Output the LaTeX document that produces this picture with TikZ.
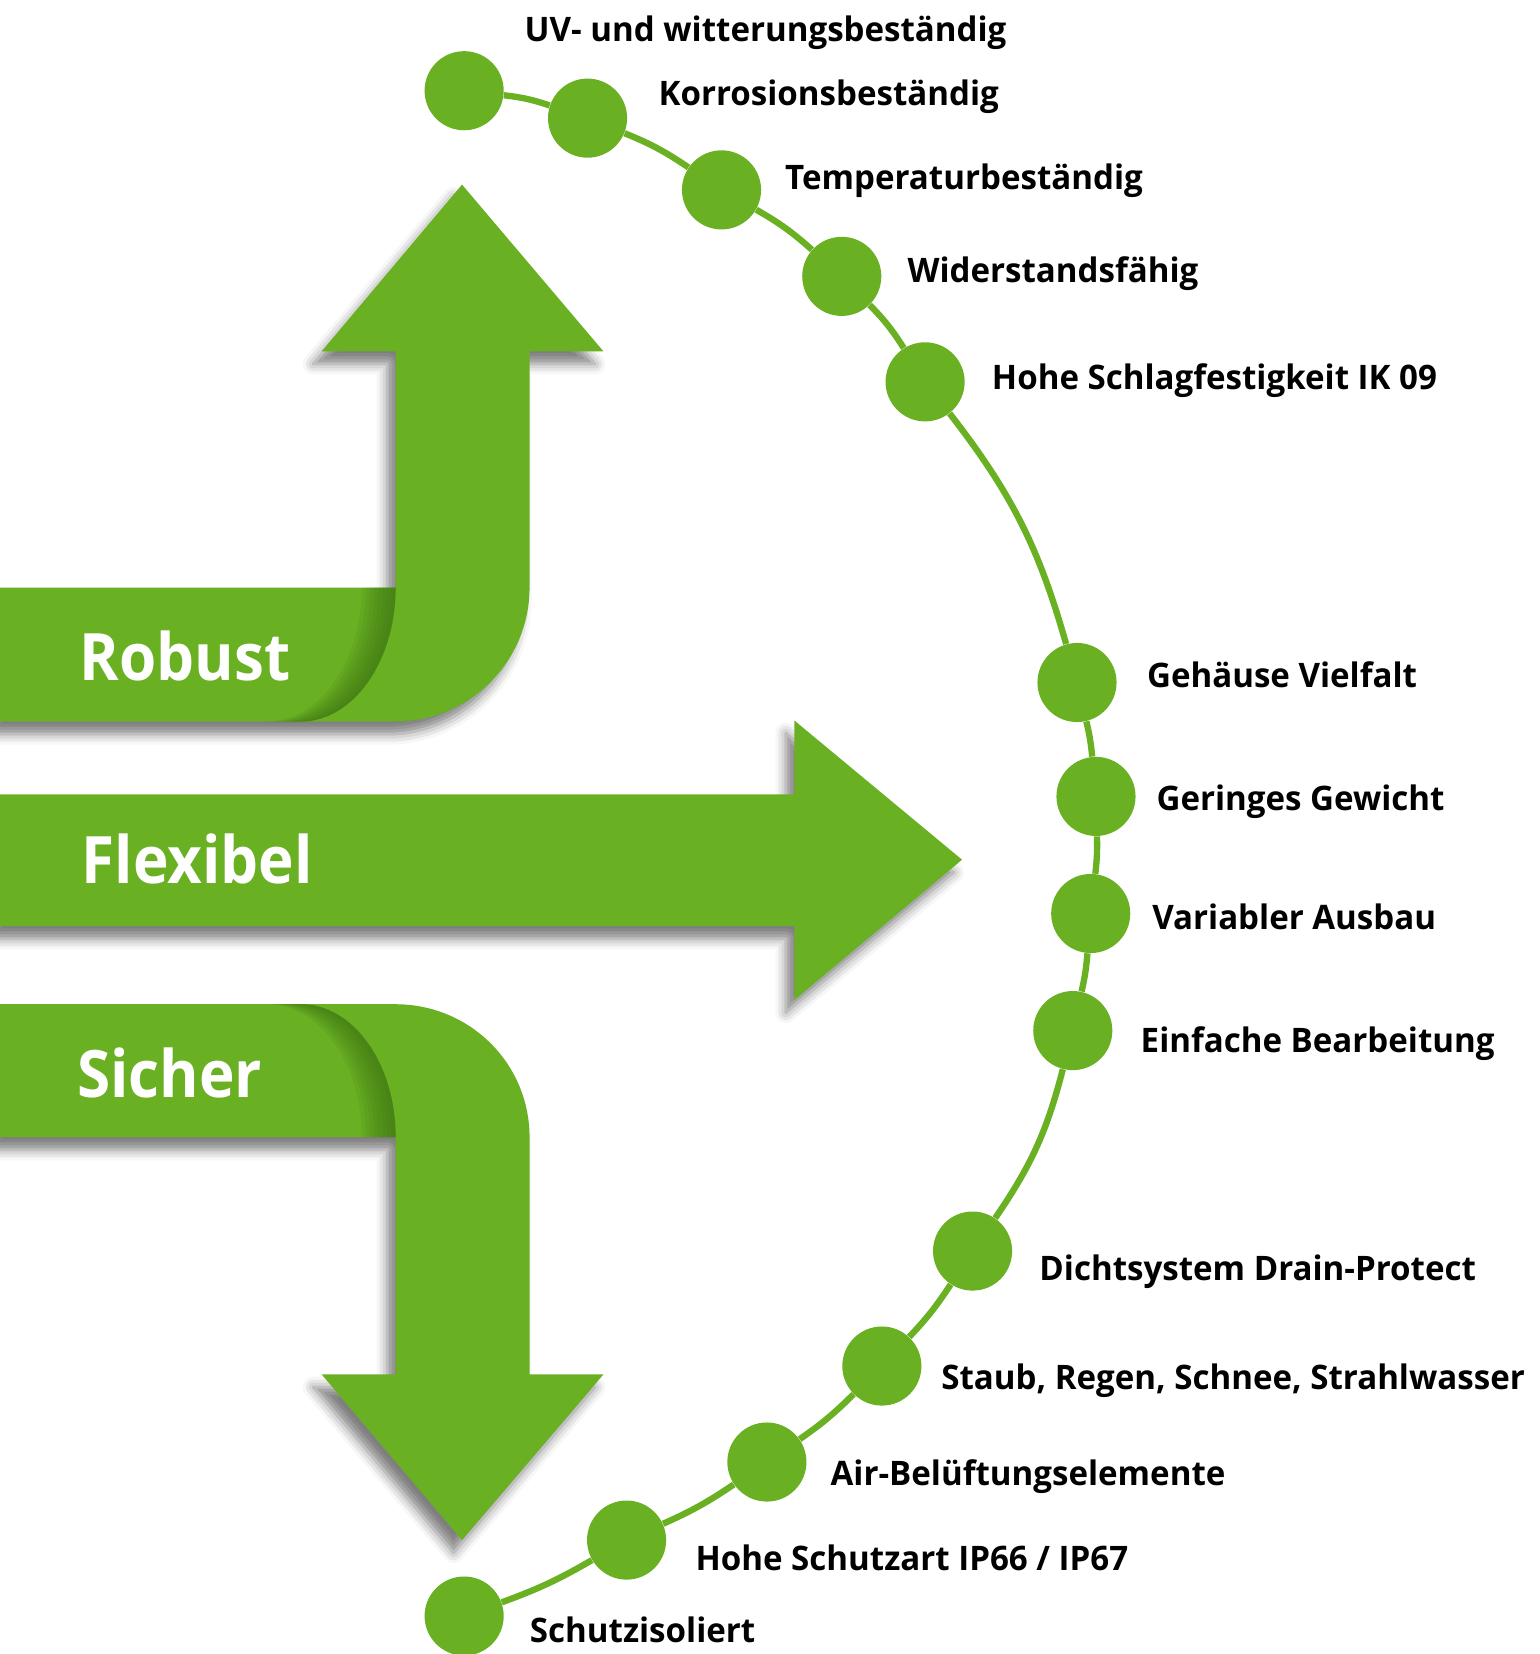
\documentclass[tikz,border=0pt]{standalone}
\usepackage{fontspec}
\setmainfont{Open Sans}[FakeStretch=0.92]
\newfontfamily\lblfont{Open Sans}[FakeStretch=0.98]
\usetikzlibrary{shadows.blur}
\definecolor{lgreen}{HTML}{6AB023}
\definecolor{dgreen}{HTML}{3A7012}
\begin{document}
\begin{tikzpicture}[x=0.5pt,y=-0.5pt,
  arrowbody/.style={fill=lgreen, draw=none,
    blur shadow={shadow xshift=-4pt, shadow yshift=-6pt, shadow blur radius=5pt, shadow opacity=50}},
  dot/.style={circle, fill=lgreen, draw=none, minimum size=37.5pt, inner sep=0pt},
  conn/.style={draw=lgreen, line width=3pt},
  lbl/.style={anchor=base west, inner sep=0pt, font=\lblfont\fontsize{16}{19}\selectfont\bfseries, text=black},
  big/.style={anchor=base west, inner sep=0pt, font=\fontsize{31}{36}\selectfont\bfseries, text=white},
  foldshade/.style={fill=dgreen, fill opacity=0.12, draw=none}]
\useasboundingbox (0,0) rectangle (1459,1568);

% ---------- Robust (up) ----------
\path[arrowbody] (0,557) -- (375,557) -- (375,333) -- (305,333) -- (438,175) -- (572,333)
  -- (502,333) -- (502,557) .. controls (502,627.1) and (445.1,684) .. (375,684) -- (0,684) -- cycle;
\foreach \k in {4,8,...,32}{
  \fill[foldshade] (375,557) .. controls (375,627.1) and (334.7,684) .. (285,684)
    -- (285-\k,684) .. controls (334.7-\k,684) and (375-\k,627.1) .. (375-\k,557) -- cycle;
}
\node[big] (robust) at (75,645) {Robust};

% ---------- Flexibel (right) ----------
\path[arrowbody] (0,753) -- (753,753) -- (753,683) -- (912,815) -- (753,948) -- (753,878) -- (0,878) -- cycle;
\node[big] (flexibel) at (77,838) {Flexibel};

% ---------- Sicher (down) ----------
\path[arrowbody] (0,1078) -- (375,1078) -- (375,1303) -- (305,1303) -- (438,1460) -- (572,1303)
  -- (502,1303) -- (502,1078) .. controls (502,1007.9) and (445.1,952) .. (375,952) -- (0,952) -- cycle;
\foreach \k in {4,8,...,32}{
  \fill[foldshade] (375,1078) .. controls (375,1007.9) and (334.7,952) .. (285,952)
    -- (285-\k,952) .. controls (334.7-\k,952) and (375-\k,1007.9) .. (375-\k,1078) -- cycle;
}
\node[big] (sicher) at (73,1040) {Sicher};

% ---------- dots ----------
\node[dot] (d1)  at (440,86)   {};
\node[dot] (d2)  at (557,112)  {};
\node[dot] (d3)  at (684,180)  {};
\node[dot] (d4)  at (798,262)  {};
\node[dot] (d5)  at (877,362)  {};
\node[dot] (d6)  at (1021,647) {};
\node[dot] (d7)  at (1039,755) {};
\node[dot] (d8)  at (1034,866) {};
\node[dot] (d9)  at (1017,977) {};
\node[dot] (d10) at (922,1186) {};
\node[dot] (d11) at (836,1295) {};
\node[dot] (d12) at (727,1386) {};
\node[dot] (d13) at (594,1460) {};
\node[dot] (d14) at (440,1532) {};

% ---------- connectors ----------
\draw[conn] (d1) to[bend left=6] (d2);
\draw[conn] (d2) to[bend left=6] (d3);
\draw[conn] (d3) to[bend left=6] (d4);
\draw[conn] (d4) to[bend left=6] (d5);
\draw[conn] (d5) to[bend left=11] (d6);
\draw[conn] (d6) to[bend left=4] (d7);
\draw[conn] (d7) to[bend left=4] (d8);
\draw[conn] (d8) to[bend left=4] (d9);
\draw[conn] (d9) to[bend left=10] (d10);
\draw[conn] (d10) to[bend left=5] (d11);
\draw[conn] (d11) to[bend left=5] (d12);
\draw[conn] (d12) to[bend left=5] (d13);
\draw[conn] (d13) to[bend left=5] (d14);

% ---------- labels ----------
\node[lbl] (t1)  at (497,39)    {UV- und witterungsbeständig};
\node[lbl] (t2)  at (624,100)   {Korrosionsbeständig};
\node[lbl] (t3)  at (744,180)   {Temperaturbeständig};
\node[lbl] (t4)  at (860,268)   {Widerstandsfähig};
\node[lbl] (t5)  at (940,369)   {Hohe Schlagfestigkeit IK 09};
\node[lbl] (t6)  at (1087,652)  {Gehäuse Vielfalt};
\node[lbl] (t7)  at (1096,768)  {Geringes Gewicht};
\node[lbl] (t8)  at (1092,881)  {Variabler Ausbau};
\node[lbl] (t9)  at (1081,998)  {Einfache Bearbeitung};
\node[lbl] (t10) at (985,1214)  {Dichtsystem Drain-Protect};
\node[lbl] (t11) at (892,1317)  {Staub, Regen, Schnee, Strahlwasser};
\node[lbl] (t12) at (787,1408)  {Air-Belüftungselemente};
\node[lbl] (t13) at (659,1489)  {Hohe Schutzart IP66 / IP67};
\node[lbl] (t14) at (502,1557)  {Schutzisoliert};
\end{tikzpicture}
\end{document}
